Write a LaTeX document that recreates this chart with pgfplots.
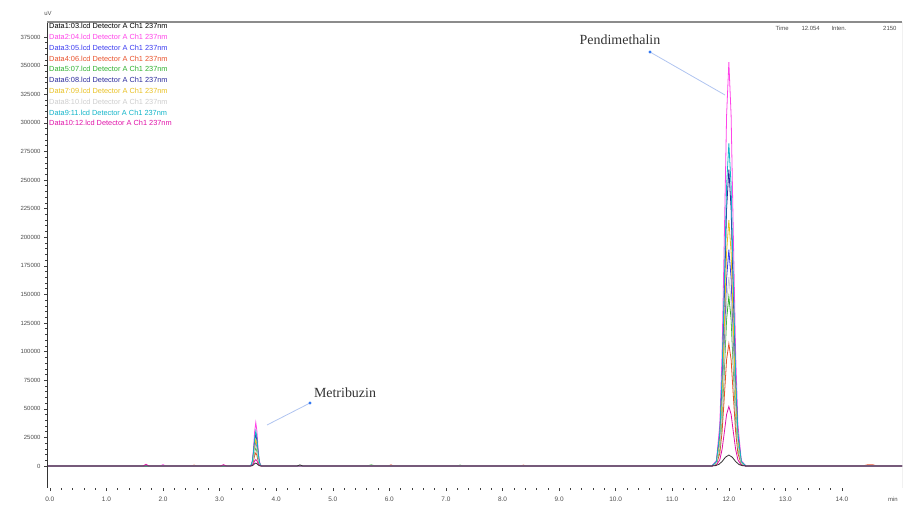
\documentclass[border=0pt]{standalone}
\usepackage{pgfplots}
\pgfplotsset{compat=1.18}
\usepackage{fontspec}
\setmainfont{Liberation Sans}
\newfontfamily\seriffont{Liberation Serif}
\definecolor{d1}{HTML}{000000}
\definecolor{d2}{HTML}{FF44E8}
\definecolor{d3}{HTML}{3A3AF0}
\definecolor{d4}{HTML}{E8502A}
\definecolor{d5}{HTML}{2EB02E}
\definecolor{d6}{HTML}{2A2A9A}
\definecolor{d7}{HTML}{E8C020}
\definecolor{d8}{HTML}{CDCDCD}
\definecolor{d9}{HTML}{10B4C8}
\definecolor{d10}{HTML}{E010A8}
\definecolor{annl}{HTML}{B0C4F0}
\definecolor{annd}{HTML}{3478F0}
\begin{document}
\begin{tikzpicture}
\useasboundingbox (0bp,0bp) rectangle (906bp,506bp);
\begin{axis}[at={(47bp,18bp)}, anchor=south west, width=855bp, height=466bp, scale only axis,
  xmin=-0.05, xmax=15.06, ymin=-19230, ymax=388100,
  axis line style={draw=none},
  xtick={0,1,...,14}, ytick={0,25000,...,375000},
  minor x tick num=4, minor y tick num=4,
  xtick pos=left, ytick pos=left,
  tick align=outside, major tick length=3bp, minor tick length=1.8bp,
  tick style={black!75, line width=0.5bp},
  scaled y ticks=false,
  /pgf/number format/assume math mode=true,
  yticklabel style={font=\fontsize{6}{7}\selectfont, text=black!70, /pgf/number format/fixed, /pgf/number format/1000 sep={}},
  xticklabel style={font=\fontsize{6.5}{7}\selectfont, text=black!70, yshift=-2.5bp, /pgf/number format/fixed, /pgf/number format/fixed zerofill, /pgf/number format/precision=1},
  every axis plot/.append style={line width=0.8bp},
]
% Data2
\addplot[d2] coordinates {(-0.05,0) (1.95,0) (2.00,1200) (2.05,0) (3.53,0) (3.56,1100) (3.58,5100) (3.60,15600) (3.62,30400) (3.64,38000) (3.66,30400) (3.68,15600) (3.70,5100) (3.72,1100) (3.75,0) (11.70,0) (11.78,4800) (11.84,36400) (11.88,98100) (11.92,199800) (11.96,306400) (12.00,353000) (12.04,306400) (12.08,199800) (12.12,98100) (12.16,36400) (12.22,4800) (12.30,0) (15.06,0)};
% Data3
\addplot[d3] coordinates {(-0.05,0) (3.53,0) (3.56,600) (3.58,2700) (3.60,8200) (3.62,16000) (3.64,20000) (3.66,16000) (3.68,8200) (3.70,2700) (3.72,600) (3.75,0) (11.70,0) (11.78,2600) (11.84,19500) (11.88,52500) (11.92,107000) (11.96,164100) (12.00,189000) (12.04,164100) (12.08,107000) (12.12,52500) (12.16,19500) (12.22,2600) (12.30,0) (15.06,0)};
% Data4
\addplot[d4] coordinates {(-0.05,0) (2.50,0) (2.55,800) (2.60,0) (3.53,0) (3.56,300) (3.58,1600) (3.60,4700) (3.62,9200) (3.64,11500) (3.66,9200) (3.68,4700) (3.70,1600) (3.72,300) (3.75,0) (5.98,0) (6.03,1000) (6.08,0) (8.32,0) (8.37,800) (8.42,0) (11.70,0) (11.78,1400) (11.84,11000) (11.88,29700) (11.92,60600) (11.96,92900) (12.00,107000) (12.04,92900) (12.08,60600) (12.12,29700) (12.16,11000) (12.22,1400) (12.30,0) (14.35,0) (14.45,1000) (14.55,1000) (14.62,0) (15.06,0)};
% Data5
\addplot[d5] coordinates {(-0.05,0) (3.53,0) (3.56,500) (3.58,2200) (3.60,6600) (3.62,12800) (3.64,16000) (3.66,12800) (3.68,6600) (3.70,2200) (3.72,500) (3.75,0) (5.60,0) (5.68,1000) (5.76,0) (7.20,0) (7.25,800) (7.30,0) (11.70,0) (11.78,2000) (11.84,15200) (11.88,41100) (11.92,83800) (11.96,128500) (12.00,148000) (12.04,128500) (12.08,83800) (12.12,41100) (12.16,15200) (12.22,2000) (12.30,0) (15.06,0)};
% Data6
\addplot[d6] coordinates {(-0.05,0) (3.53,0) (3.56,800) (3.58,3800) (3.60,11500) (3.62,22400) (3.64,28000) (3.66,22400) (3.68,11500) (3.70,3800) (3.72,800) (3.75,0) (11.70,0) (11.78,3500) (11.84,26700) (11.88,72000) (11.92,146600) (11.96,224800) (12.00,259000) (12.04,224800) (12.08,146600) (12.12,72000) (12.16,26700) (12.22,3500) (12.30,0) (15.06,0)};
% Data7
\addplot[d7] coordinates {(-0.05,0) (3.53,0) (3.56,700) (3.58,3100) (3.60,9500) (3.62,18400) (3.64,23000) (3.66,18400) (3.68,9500) (3.70,3100) (3.72,700) (3.75,0) (11.70,0) (11.78,2900) (11.84,22100) (11.88,59800) (11.92,121700) (11.96,186600) (12.00,215000) (12.04,186600) (12.08,121700) (12.12,59800) (12.16,22100) (12.22,2900) (12.30,0) (15.06,0)};
% Data8
\addplot[d8] coordinates {(-0.05,0) (3.53,0) (3.56,500) (3.58,2400) (3.60,7400) (3.62,14400) (3.64,18000) (3.66,14400) (3.68,7400) (3.70,2400) (3.72,500) (3.75,0) (11.70,0) (11.78,2200) (11.84,17000) (11.88,45900) (11.92,93400) (11.96,143200) (12.00,165000) (12.04,143200) (12.08,93400) (12.12,45900) (12.16,17000) (12.22,2200) (12.30,0) (15.06,0)};
% Data9
\addplot[d9] coordinates {(-0.05,0) (3.53,0) (3.56,900) (3.58,4100) (3.60,12500) (3.62,24400) (3.64,30500) (3.66,24400) (3.68,12500) (3.70,4100) (3.72,900) (3.75,0) (11.70,0) (11.78,3800) (11.84,29000) (11.88,78400) (11.92,159600) (11.96,244800) (12.00,282000) (12.04,244800) (12.08,159600) (12.12,78400) (12.16,29000) (12.22,3800) (12.30,0) (15.06,0)};
% Data10
\addplot[d10] coordinates {(-0.05,0) (1.65,0) (1.70,1500) (1.75,0) (3.02,0) (3.07,1200) (3.12,0) (3.53,0) (3.56,200) (3.58,800) (3.60,2300) (3.62,4500) (3.64,5600) (3.66,4500) (3.68,2300) (3.70,800) (3.72,200) (3.75,0) (11.70,0) (11.78,700) (11.84,5400) (11.88,14500) (11.92,29400) (11.96,45100) (12.00,52000) (12.04,45100) (12.08,29400) (12.12,14500) (12.16,5400) (12.22,700) (12.30,0) (15.06,0)};
% Data1
\addplot[d1!80] coordinates {(-0.05,0) (3.53,0) (3.56,100) (3.58,300) (3.60,1000) (3.62,2000) (3.64,2500) (3.66,2000) (3.68,1000) (3.70,300) (3.72,100) (3.75,0) (4.37,0) (4.42,1000) (4.47,0) (11.68,0) (11.76,300) (11.82,1300) (11.88,3900) (11.94,7700) (12.00,9600) (12.06,7700) (12.12,3900) (12.18,1300) (12.24,300) (12.32,0) (15.06,0)};
% frame
\draw[black!80, line width=0.8bp] (rel axis cs:0,0) -- (rel axis cs:0,1);
\draw[black!80, line width=0.8bp] (rel axis cs:0,0) -- (rel axis cs:1,0);
\draw[black!45, line width=2.2bp] (rel axis cs:0,1) -- (rel axis cs:1,1);
\draw[black!45, line width=0.8bp] (rel axis cs:1,0) -- (rel axis cs:1,1);
\end{axis}
\begin{scope}[x=1bp,y=1bp]
% axis unit labels
\node[font=\fontsize{6}{7}\selectfont, text=black!70] at (48,493) {uV};
\node[font=\fontsize{6}{7}\selectfont, text=black!70] at (893,7) {min};
% readout
\node[font=\fontsize{6}{7}\selectfont, text=black!70, anchor=west] at (772,478) {Time};
\node[font=\fontsize{6}{7}\selectfont, text=black!70, anchor=west] at (798,478) {12.054};
\node[font=\fontsize{6}{7}\selectfont, text=black!70, anchor=west] at (828,478) {Inten.};
\node[font=\fontsize{6}{7}\selectfont, text=black!70, anchor=east] at (900,478) {2150};
% legend text
\begin{scope}[every node/.style={anchor=west, inner sep=0pt, font=\fontsize{7.4}{8}\selectfont}]
\node[text=d1] at (49,480.0) {Data1:03.lcd Detector A Ch1 237nm};
\node[text=d2] at (49,469.2) {Data2:04.lcd Detector A Ch1 237nm};
\node[text=d3] at (49,458.4) {Data3:05.lcd Detector A Ch1 237nm};
\node[text=d4] at (49,447.6) {Data4:06.lcd Detector A Ch1 237nm};
\node[text=d5] at (49,436.8) {Data5:07.lcd Detector A Ch1 237nm};
\node[text=d6] at (49,426.0) {Data6:08.lcd Detector A Ch1 237nm};
\node[text=d7] at (49,415.2) {Data7:09.lcd Detector A Ch1 237nm};
\node[text=d8] at (49,404.4) {Data8:10.lcd Detector A Ch1 237nm};
\node[text=d9] at (49,393.6) {Data9:11.lcd Detector A Ch1 237nm};
\node[text=d10] at (49,382.8) {Data10:12.lcd Detector A Ch1 237nm};
\end{scope}
% annotations
\node[font=\seriffont\fontsize{14}{16}\selectfont, text=black!80] at (620,466) {Pendimethalin};
\draw[annl, line width=0.8bp] (650,454) -- (725,411);
\fill[annd] (650,454) circle (1.6);
\node[font=\seriffont\fontsize{14}{16}\selectfont, text=black!80] at (345,113) {Metribuzin};
\draw[annl, line width=0.8bp] (310,103) -- (267,81);
\fill[annd] (310,103) circle (1.6);
\end{scope}
\end{tikzpicture}
\end{document}
